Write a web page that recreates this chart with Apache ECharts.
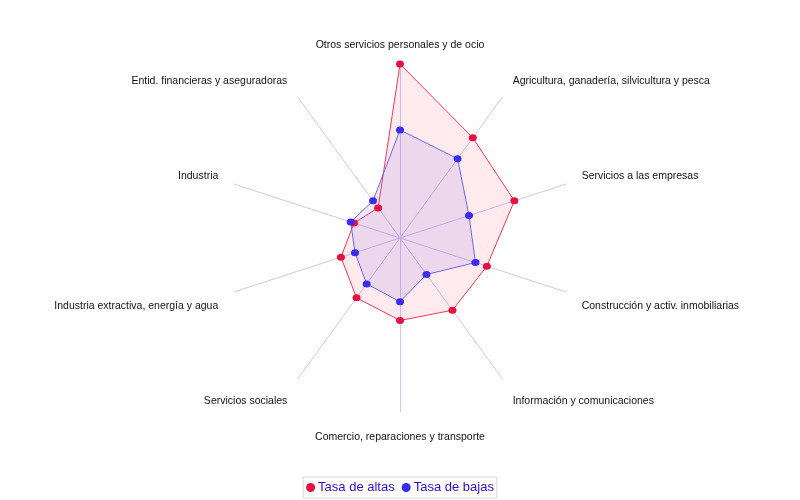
<!DOCTYPE html>
<html>
<head>
<meta charset="utf-8">
<script src="https://cdn.jsdelivr.net/npm/echarts@6/dist/echarts.min.js"></script>
<style>html,body{margin:0;padding:0;background:#fff}#c{width:800px;height:500px}</style>
</head>
<body>
<div id="c"></div>
<script>
// Categories listed counterclockwise from the top (ECharts radar order)
var categories = [
  "Otros servicios personales y de ocio",
  "Entid. financieras y aseguradoras",
  "Industria",
  "Industria extractiva, energía y agua",
  "Servicios sociales",
  "Comercio, reparaciones y transporte",
  "Información y comunicaciones",
  "Construcción y activ. inmobiliarias",
  "Servicios a las empresas",
  "Agricultura, ganadería, silvicultura y pesca"
];
var seriesNames = ["Tasa de altas", "Tasa de bajas"];
var altas = [100, 21.4, 27.8, 35.7, 42.5, 47.4, 51.3, 52.5, 69.1, 71.2];
var bajas = [62.1, 26.4, 29.8, 27.2, 32.6, 36.6, 25.9, 45.6, 41.7, 56.3];
var axisMax = 100;

var CX = 400, CY = 238, R = 174, LABEL_R = 190;
var FONT = 'Liberation Sans, Arial, sans-serif';

// axis name labels placed around the web (JFreeChart-like placement)
var labelGraphics = categories.map(function (name, i) {
  var a = (90 + i * 360 / categories.length) * Math.PI / 180;
  var px = CX + LABEL_R * Math.cos(a);
  var py = CY - LABEL_R * Math.sin(a);
  var align = Math.abs(px - CX) < 0.5 ? 'center' : (px < CX ? 'right' : 'left');
  var y = py < CY ? py - 3 : py + 9.5;
  return {
    type: 'text', x: px + (align === 'left' ? 1 : (align === 'right' ? -1 : 0)), y: y, silent: true,
    style: {text: name, fill: '#111', font: '10.5px ' + FONT, textAlign: align, textVerticalAlign: 'middle'}
  };
});

var chart = echarts.init(document.getElementById('c'), null, {renderer: 'canvas'});
chart.setOption({
  animation: false,
  backgroundColor: '#fff',
  textStyle: {fontFamily: FONT},
  legend: {
    bottom: 2,
    left: 'center',
    data: seriesNames,
    icon: 'circle',
    itemWidth: 9,
    itemHeight: 9,
    itemGap: 7,
    borderColor: '#d8d8d8',
    borderWidth: 1,
    padding: [4, 3],
    textStyle: {color: '#2a0fd0', fontSize: 13, fontFamily: FONT, padding: [0, 0, 0, -2]}
  },
  graphic: labelGraphics,
  radar: {
    center: [CX, CY],
    radius: R,
    startAngle: 90,
    shape: 'polygon',
    splitNumber: 1,
    axisName: {show: false},
    axisLine: {lineStyle: {color: '#c8c8ff', width: 1}},
    splitLine: {show: false},
    splitArea: {show: false},
    indicator: categories.map(function (c) { return {name: c, max: axisMax, min: 0}; })
  },
  series: [{
    type: 'radar',
    symbol: 'circle',
    symbolSize: [8, 7],
    data: [
      {
        name: seriesNames[0], value: altas,
        itemStyle: {color: '#e8103c'},
        lineStyle: {color: '#f8385a', width: 1},
        areaStyle: {color: 'rgba(255,60,90,0.15)'}
      },
      {
        name: seriesNames[1], value: bajas,
        itemStyle: {color: '#3a2cf0'},
        lineStyle: {color: '#6a6af8', width: 1},
        areaStyle: {color: 'rgba(110,90,220,0.18)'}
      }
    ]
  }]
});
</script>
</body>
</html>
